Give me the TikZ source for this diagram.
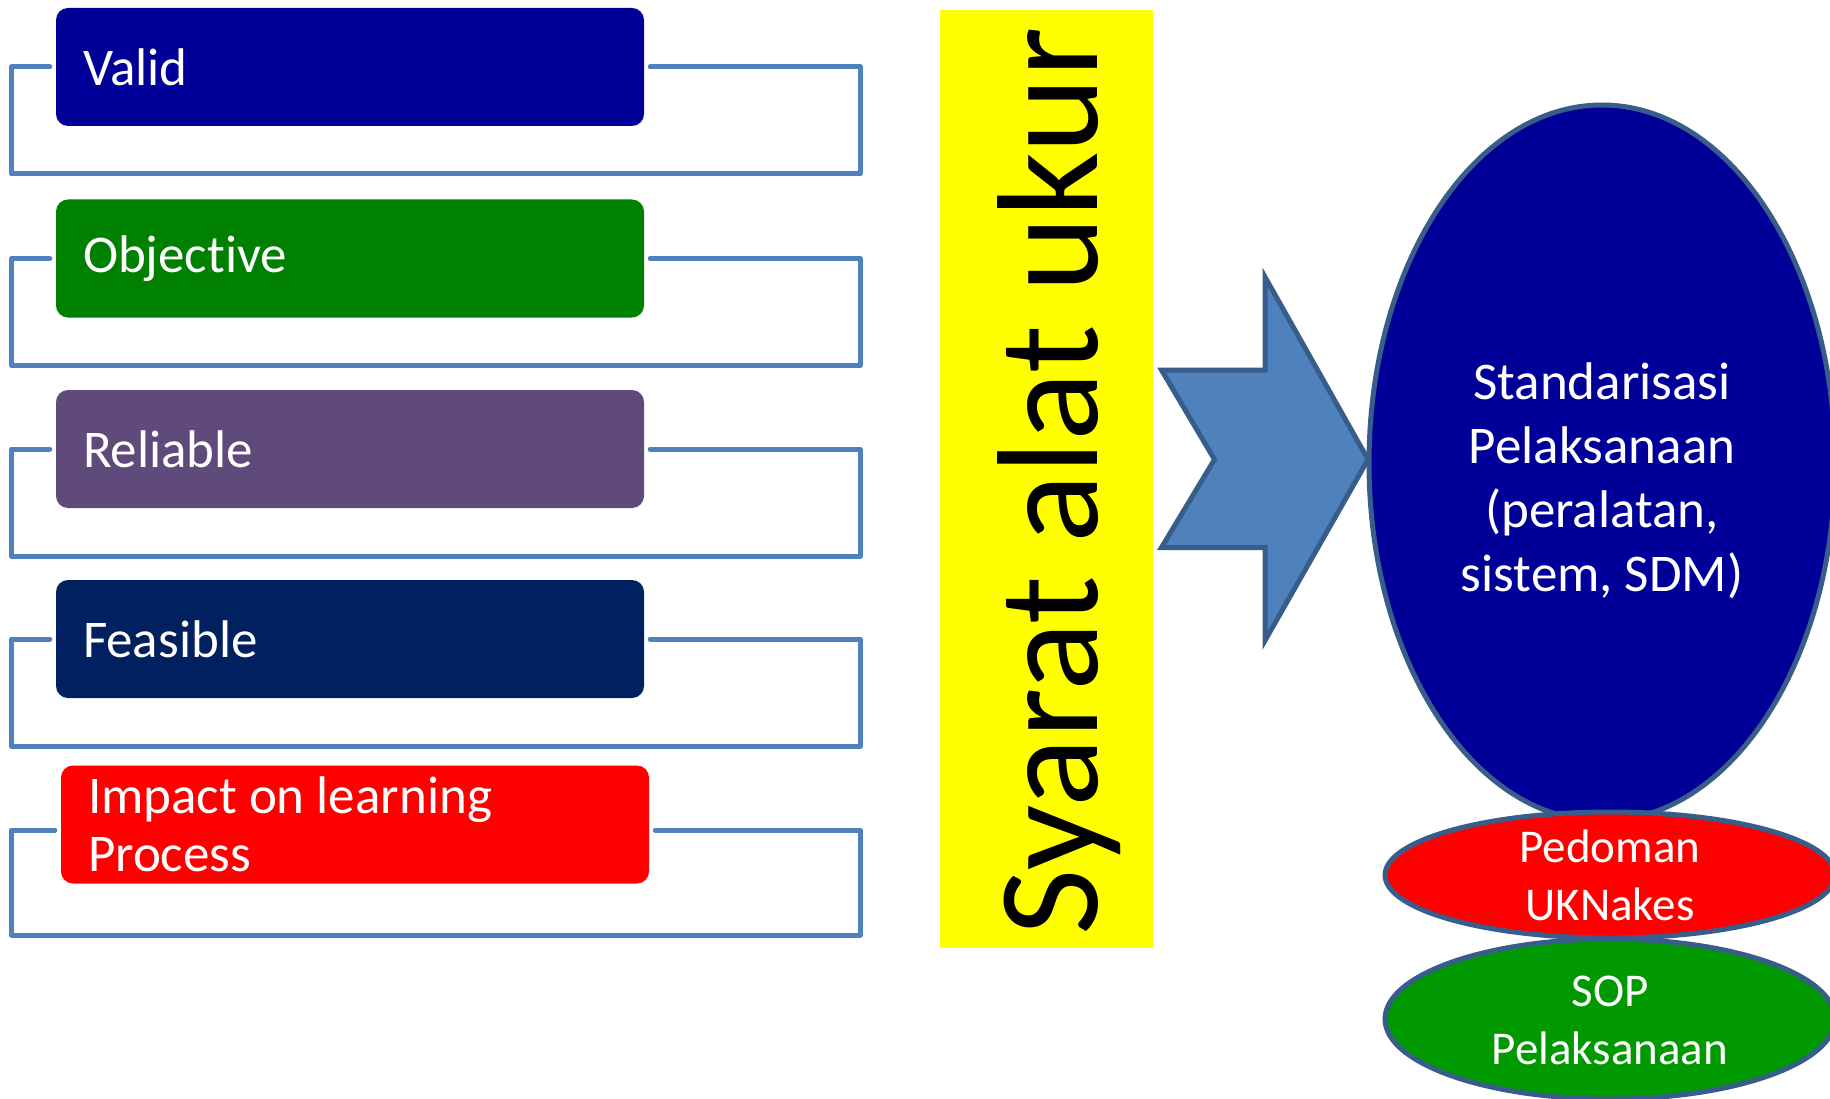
\documentclass[tikz,border=0pt]{standalone}
\usepackage{fontspec}
\setmainfont{Carlito}[Ligatures=NoCommon]
\usetikzlibrary{shapes.geometric}
\definecolor{cvalid}{HTML}{000099}
\definecolor{cobj}{HTML}{008000}
\definecolor{crel}{HTML}{604A7B}
\definecolor{cfeas}{HTML}{002060}
\definecolor{cimp}{HTML}{FF0000}
\definecolor{cline}{HTML}{4F81BD}
\definecolor{cedge}{HTML}{385D8A}
\definecolor{cgreen}{HTML}{009900}
\definecolor{cyellow}{HTML}{FFFF00}
\tikzset{
  itembox/.style={rectangle, rounded corners=12pt, text=white, align=flush left,
    text width=534pt, inner xsep=27pt, inner ysep=0pt, minimum height=118pt,
    font=\fontsize{53}{58}\selectfont},
  bracket/.style={draw=cline, line width=5pt, line join=round, line cap=round},
  bigell/.style={ellipse, draw=cedge, line width=5pt, inner sep=0pt},
  elltext/.style={text=white, align=center, inner sep=0pt},
  arrowshape/.style={fill=cline, draw=cedge, line width=5pt, line join=miter}
}
\begin{document}
\begin{tikzpicture}[x=1pt,y=-1pt]
\useasboundingbox (0,0) rectangle (1830,1099);
\clip (0,0) rectangle (1830,1099);
\coordinate (lx) at (11.5,0);
\coordinate (rx) at (860,0);

% left boxes
\node[itembox, fill=cvalid] (b1) at (350,67) {Valid};
\node[itembox, fill=cobj]   (b2) at (350,258.5) {Objective};
\node[itembox, fill=crel]   (b3) at (350,449) {Reliable};
\node[itembox, fill=cfeas]  (b4) at (350,639) {Feasible};
\node[itembox, fill=cimp]   (b5) at (355,824.5) {Impact on learning\\Process};

% bracket attachment points
\foreach \b in {b1,b2,b3,b4}{
  \coordinate (\b l) at ([xshift=-6pt]\b.west);
  \coordinate (\b r) at ([xshift=6pt]\b.east);
}
\coordinate (b5l) at ([xshift=-6pt,yshift=-5.5pt]b5.west);
\coordinate (b5r) at ([xshift=6pt,yshift=-5.5pt]b5.east);

% brackets
\foreach \b/\h in {b1/107,b2/107,b3/107,b4/107,b5/105}{
  \draw[bracket] (\b l) -- (\b l -| lx) -- ++(0,\h)
     -| (\b r -| rx) -- (\b r);
}

% yellow bar
\node[rectangle, fill=cyellow, minimum width=213.5pt, minimum height=937pt, inner sep=0pt]
  (syarat) at (1046.3,479) {};
\node[rotate=90, anchor=base, inner sep=0pt, font=\fontsize{144}{144}\selectfont]
  (syarattext) at (1097,481.5) {Syarat alat ukur};

% notched arrow
\draw[arrowshape] (1161.5,370) -- (1265,370) -- (1265,277) -- (1368,459.5)
  -- (1265,640.5) -- (1265,547.5) -- (1161.5,547.5) -- (1214.5,459.5) -- cycle;

% ellipses
\node[bigell, fill=cvalid, minimum width=466pt, minimum height=716pt] (std) at (1602,463) {};
\node[elltext, font=\fontsize{53}{64}\selectfont] (stdtext) at (1602,480.5)
  {Standarisasi\\Pelaksanaan\\(peralatan,\\sistem, SDM)};
\node[bigell, fill=cimp, minimum width=450pt, minimum height=126pt] (ped) at (1610,875) {};
\node[elltext, font=\fontsize{47}{58}\selectfont] (pedtext) at (1610,875.5) {Pedoman\\UKNakes};
\node[bigell, fill=cgreen, minimum width=450pt, minimum height=160pt] (sop) at (1610,1019) {};
\node[elltext, font=\fontsize{47}{58}\selectfont] (soptext) at (1610,1020) {SOP\\Pelaksanaan};
\end{tikzpicture}
\end{document}
